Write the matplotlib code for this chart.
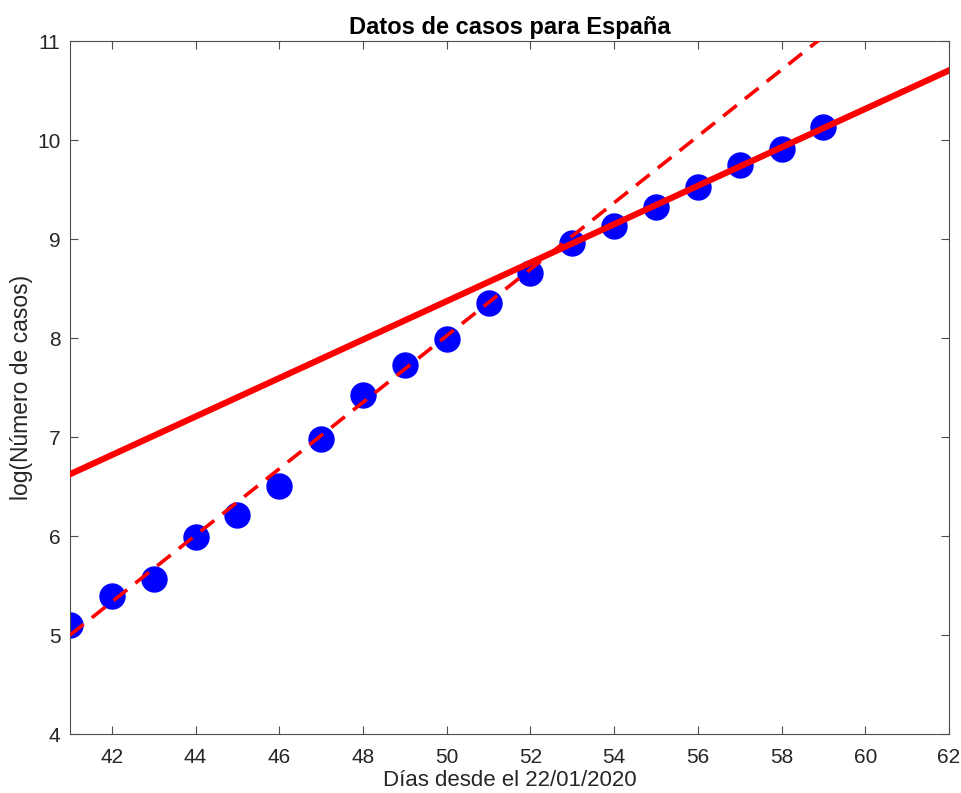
import numpy as np
import matplotlib
matplotlib.use('Agg')
import matplotlib.pyplot as plt

# datos
dias = [41, 42, 43, 44, 45, 46, 47, 48, 49, 50, 51, 52, 53, 54, 55, 56, 57, 58, 59]
log_casos = [5.10, 5.39, 5.57, 5.99, 6.21, 6.51, 6.98, 7.43, 7.73, 7.99, 8.35, 8.66,
             8.96, 9.13, 9.32, 9.53, 9.75, 9.91, 10.13]

# ajustes lineales (ordenada en x=41, pendiente)
ajuste_inicio = [5.00, 0.336]
ajuste_final = [6.625, 0.1943]
x_ajuste = [41, 62]

plt.rcParams['font.family'] = ['Liberation Sans', 'DejaVu Sans']

fig = plt.figure(figsize=(9.62, 7.93), dpi=100)
ax = fig.add_axes([0.0728, 0.0744, 0.9137, 0.8736])

xa = np.array(x_ajuste, dtype=float)
ax.plot(xa, ajuste_inicio[0] + ajuste_inicio[1] * (xa - 41), color='red',
        lw=2.6, dashes=(4.8, 2.9), zorder=3)
ax.plot(dias, log_casos, 'o', color='blue', markersize=18, zorder=2)
ax.plot(xa, ajuste_final[0] + ajuste_final[1] * (xa - 41), color='red',
        lw=4.5, zorder=4)

ax.set_xlim(41, 62)
ax.set_ylim(4, 11)
ax.set_xticks(np.arange(42, 63, 2))
ax.set_yticks(np.arange(4, 12, 1))

gris = '#262626'
for s in ax.spines.values():
    s.set_color('#4d4d4d')
    s.set_linewidth(0.8)
ax.tick_params(direction='in', top=True, right=True, length=6, width=0.8,
               color='#4d4d4d', labelcolor=gris, labelsize=15, pad=7)
ax.tick_params(axis='x', pad=10)

ax.set_title('Datos de casos para España', fontsize=17, fontweight='bold', pad=5)
ax.set_xlabel('Días desde el 22/01/2020', fontsize=16, color=gris, labelpad=2)
ax.set_ylabel('log(Número de casos)', fontsize=16.5, color=gris)
ax.yaxis.set_label_coords(-0.042, 0.5)

fig.savefig('out.png', dpi=100)
